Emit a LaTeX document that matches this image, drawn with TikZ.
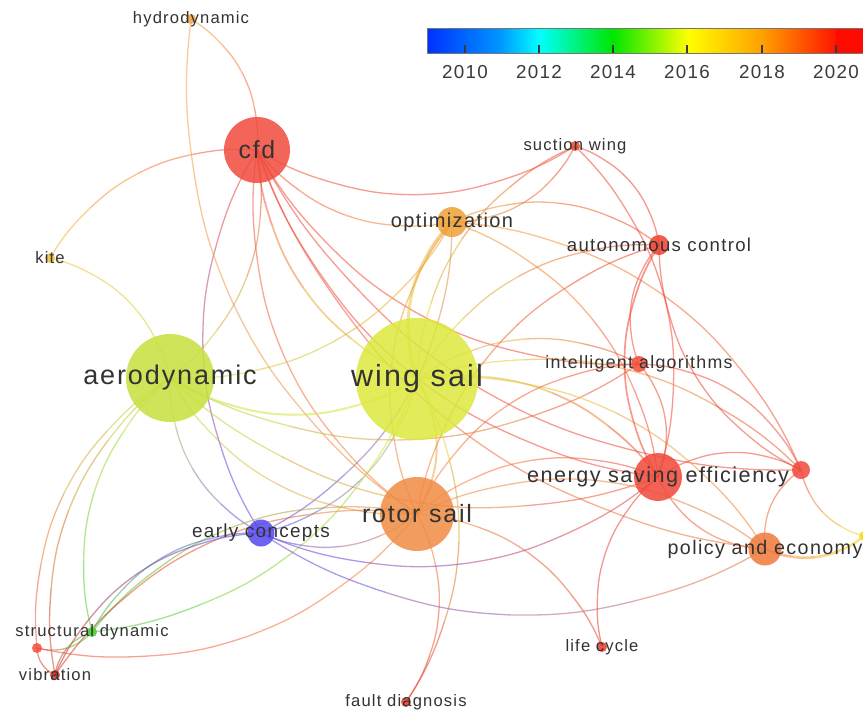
\documentclass[tikz,border=0pt]{standalone}
\usepackage{fontspec}
\setmainfont[LetterSpace=7]{Liberation Sans}
\usetikzlibrary{calc}

\pgfdeclarelayer{bg}
\pgfdeclarelayer{edges}
\pgfsetlayers{bg,edges,main}

% node colours (by publication year)
\definecolor{colae}{HTML}{C8E03C}
\definecolor{colac}{HTML}{F0402C}
\definecolor{colcfd}{HTML}{F24A3C}
\definecolor{colec}{HTML}{5548EE}
\definecolor{colese}{HTML}{F24838}
\definecolor{colfd}{HTML}{E63C2C}
\definecolor{colhy}{HTML}{F5A444}
\definecolor{colia}{HTML}{F24C34}
\definecolor{colki}{HTML}{F2C038}
\definecolor{collc}{HTML}{E63C2C}
\definecolor{colop}{HTML}{F0A034}
\definecolor{colpe}{HTML}{F07A3A}
\definecolor{colrs}{HTML}{F08C44}
\definecolor{colsd}{HTML}{44CC30}
\definecolor{colsw}{HTML}{EE4830}
\definecolor{colvb}{HTML}{D03020}
\definecolor{colws}{HTML}{DDE83C}
\definecolor{colrx}{HTML}{F04A3A}
\definecolor{colyx}{HTML}{F8DC20}
\definecolor{colrd}{HTML}{F44C3A}
\definecolor{labgray}{HTML}{333333}
\definecolor{tickgray}{HTML}{3A3A3A}
% colour scale stops
\definecolor{cb09}{RGB}{0,48,255}
\definecolor{cb11}{RGB}{0,150,255}
\definecolor{cb12}{RGB}{0,255,255}
\definecolor{cb14}{RGB}{0,230,0}
\definecolor{cb16}{RGB}{255,255,0}
\definecolor{cb18}{RGB}{255,160,0}
\definecolor{cb20}{RGB}{255,20,0}
\definecolor{cb21}{RGB}{255,10,0}

\tikzset{
  bub/.style={circle, inner sep=0pt, minimum size=#1, fill opacity=0.85, draw=none},
  lab/.style={text=labgray, inner sep=0pt, anchor=center},
  lnk/.style={line width=1.3pt, draw opacity=0.55},
}

% curved link drawn in four pieces, fading from the colour of #2 to that of #3
\newcommand\lk[4][]{%
  \path (#2.center) to[bend right=#4] coordinate[pos=.25] (q1) coordinate[pos=.5] (q2) coordinate[pos=.75] (q3) (#3.center);
  \pgfmathsetmacro\qb{#4/4}%
  \draw[lnk,#1,color=col#2!88!col#3] (#2.center) to[bend right=\qb] (q1);
  \draw[lnk,#1,color=col#2!63!col#3] (q1) to[bend right=\qb] (q2);
  \draw[lnk,#1,color=col#2!37!col#3] (q2) to[bend right=\qb] (q3);
  \draw[lnk,#1,color=col#2!12!col#3] (q3) to[bend right=\qb] (#3.center);
}

\begin{document}
\begin{tikzpicture}[x=1pt,y=1pt]
\useasboundingbox (0,0) rectangle (863,-710);
\begin{pgfonlayer}{bg}
  \fill[white] (0,0) rectangle (863,-710);
\end{pgfonlayer}

% ---- items ----
\node[bub=122, fill=colws]  (ws)  at (417,-379) {};
\node[bub=88,  fill=colae]  (ae)  at (170,-378) {};
\node[bub=74,  fill=colrs]  (rs)  at (417,-514) {};
\node[bub=66,  fill=colcfd] (cfd) at (257,-150) {};
\node[bub=48,  fill=colese] (ese) at (658,-477) {};
\node[bub=33,  fill=colpe]  (pe)  at (765,-549) {};
\node[bub=30,  fill=colop]  (op)  at (452,-222) {};
\node[bub=27,  fill=colec]  (ec)  at (261,-533) {};
\node[bub=20,  fill=colac]  (ac)  at (659,-245) {};
\node[bub=18,  fill=colrx]  (rx)  at (801,-470) {};
\node[bub=16,  fill=colia]  (ia)  at (639,-364) {};
\node[bub=10,  fill=colsw]  (sw)  at (575,-146) {};
\node[bub=10,  fill=colhy]  (hy)  at (191,-19) {};
\node[bub=10,  fill=colki]  (ki)  at (50,-258) {};
\node[bub=10,  fill=colsd]  (sd)  at (92,-632) {};
\node[bub=10,  fill=colrd]  (rd)  at (37,-648) {};
\node[bub=10,  fill=colvb]  (vb)  at (55,-675) {};
\node[bub=10,  fill=collc]  (lc)  at (602,-647) {};
\node[bub=10,  fill=colfd]  (fd)  at (406,-702) {};
\node[bub=10,  fill=colyx]  (yx)  at (864,-536) {};

% ---- links ----
\begin{pgfonlayer}{edges}
% cfd
\lk{cfd}{hy}{30}
\lk{cfd}{ki}{30}
\lk{cfd}{sw}{30}
\lk{cfd}{op}{30}
\lk{ae}{cfd}{30}
\lk{cfd}{ec}{30}
\lk[line width=1.7pt]{cfd}{ws}{30}
\lk{cfd}{rs}{30}
\lk{cfd}{ese}{30}
\lk{cfd}{ia}{30}
\lk{cfd}{pe}{30}
\lk{cfd}{rx}{30}
% hydrodynamic, kite, suction wing
\lk{hy}{rs}{30}
\lk{ae}{ki}{30}
\lk{op}{sw}{30}
\lk{sw}{ws}{30}
\lk{ac}{sw}{30}
\lk{ese}{sw}{30}
% optimization
\lk[line width=3pt]{op}{ws}{30}
\lk{op}{rs}{30}
\lk{ae}{op}{30}
\lk{ac}{op}{30}
\lk{ese}{op}{30}
\lk{rx}{op}{30}
\lk{ec}{op}{30}
% aerodynamic
\lk[line width=2pt]{ae}{ws}{30}
\lk{ae}{rs}{30}
\lk{ae}{ec}{30}
\lk{ae}{sd}{30}
\lk{ae}{vb}{30}
\lk{ae}{rd}{30}
\lk{ae}{ese}{30}
\lk{ae}{ia}{30}
% wing sail
\lk{ec}{ws}{30}
\lk[line width=2pt]{rs}{ws}{30}
\lk{sd}{ws}{30}
\lk{ac}{ws}{30}
\lk{ia}{ws}{30}
\lk[line width=1.7pt]{ese}{ws}{30}
\lk{rx}{ws}{30}
\lk{pe}{ws}{30}
\lk{fd}{ws}{30}
% rotor sail
\lk{ese}{rs}{30}
\lk{pe}{rs}{30}
\lk{ec}{rs}{30}
\lk{fd}{rs}{30}
\lk{lc}{rs}{30}
\lk{ia}{rs}{30}
\lk{ac}{rs}{30}
\lk{rs}{sd}{30}
\lk{rs}{vb}{30}
\lk{rd}{rs}{30}
% energy saving efficiency
\lk{ese}{pe}{30}
\lk{ese}{lc}{30}
\lk{ec}{ese}{30}
\lk{ese}{ia}{30}
\lk[line width=1.7pt]{ac}{ese}{30}
\lk{rx}{ese}{30}
% policy and economy, right-hand items
\lk{ec}{pe}{30}
\lk{rx}{pe}{30}
\lk[line width=2.6pt]{pe}{yx}{30}
\lk{ac}{rx}{30}
\lk{rx}{ia}{30}
\lk{rx}{yx}{30}
\lk{ac}{ia}{30}
% lower-left cluster
\lk{ec}{sd}{30}
\lk{ec}{vb}{30}
\lk{sd}{vb}{30}
\lk{rd}{sd}{30}
\lk{rd}{vb}{30}
\end{pgfonlayer}

% ---- labels ----
\node[lab, font=\fontsize{30.5}{31}\selectfont] (ws-t)  at (ws)  {wing sail};
\node[lab, font=\fontsize{27}{27}\selectfont]   (ae-t)  at (ae)  {aerodynamic};
\node[lab, font=\fontsize{25}{25}\selectfont]   (rs-t)  at (rs)  {rotor sail};
\node[lab, font=\fontsize{24.8}{25}\selectfont] (cfd-t) at (cfd) {cfd};
\node[lab, font=\fontsize{21.6}{22}\selectfont] (ese-t) at (ese) {energy saving efficiency};
\node[lab, font=\fontsize{19.7}{20}\selectfont] (pe-t)  at (pe)  {policy and economy};
\node[lab, font=\fontsize{20}{20}\selectfont]   (op-t)  at (op)  {optimization};
\node[lab, font=\fontsize{18.9}{19}\selectfont] (ec-t)  at (ec)  {early concepts};
\node[lab, font=\fontsize{18.6}{19}\selectfont] (ac-t)  at (ac)  {autonomous control};
\node[lab, font=\fontsize{17.8}{18}\selectfont] (ia-t)  at (ia)  {intelligent algorithms};
\node[lab, font=\fontsize{16.6}{17}\selectfont] (sw-t)  at (sw)  {suction wing};
\node[lab, font=\fontsize{16.6}{17}\selectfont] (hy-t)  at (hy)  {hydrodynamic};
\node[lab, font=\fontsize{16.6}{17}\selectfont] (ki-t)  at (ki)  {kite};
\node[lab, font=\fontsize{16.6}{17}\selectfont] (sd-t)  at (sd)  {structural dynamic};
\node[lab, font=\fontsize{16.6}{17}\selectfont] (vb-t)  at (vb)  {vibration};
\node[lab, font=\fontsize{16.6}{17}\selectfont] (lc-t)  at (lc)  {life cycle};
\node[lab, font=\fontsize{16.6}{17}\selectfont] (fd-t)  at (fd)  {fault diagnosis};

% ---- colour scale ----
\shade[left color=cb09, right color=cb11] (427,-28) rectangle (500,-53);
\shade[left color=cb11, right color=cb12] (500,-28) rectangle (539,-53);
\shade[left color=cb12, right color=cb14] (539,-28) rectangle (613,-53);
\shade[left color=cb14, right color=cb16] (613,-28) rectangle (688,-53);
\shade[left color=cb16, right color=cb18] (688,-28) rectangle (762,-53);
\shade[left color=cb18, right color=cb20] (762,-28) rectangle (836,-53);
\fill[cb21] (836,-28) rectangle (866,-53);
\draw[tickgray!70, line width=0.8pt] (427,-28) rectangle (867,-53);
\foreach \xx/\yy in {465/2010,539/2012,613/2014,687/2016,762/2018,836/2020}{
  \draw[tickgray, line width=1.2pt] (\xx,-45) -- (\xx,-53);
  \node[lab, text=tickgray, font=\fontsize{18.8}{19}\selectfont] (y\yy) at (\xx,-72.5) {\yy};
}
\end{tikzpicture}
\end{document}
